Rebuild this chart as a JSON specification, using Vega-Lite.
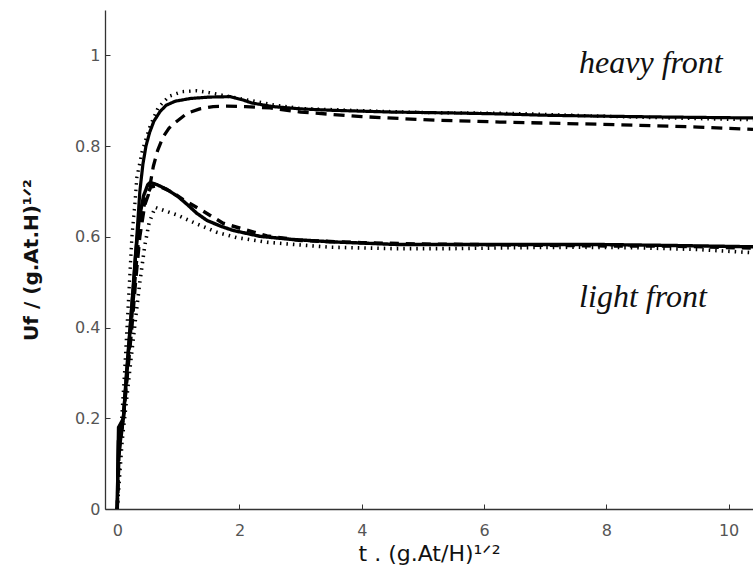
{
  "$schema": "https://vega.github.io/schema/vega-lite/v6.json",
  "width": 648,
  "height": 499,
  "autosize": {"type": "none"},
  "padding": {"left": 105, "top": 10, "right": 0, "bottom": 73},
  "background": "white",
  "config": {
    "view": {"stroke": null},
    "axis": {
      "grid": false,
      "domainColor": "#333",
      "domainWidth": 1.3,
      "tickColor": "#333",
      "tickSize": -5,
      "tickWidth": 1,
      "labelFont": "DejaVu Sans",
      "labelFontSize": 16,
      "labelColor": "#555",
      "titleFont": "DejaVu Sans",
      "titleColor": "#111"
    }
  },
  "datasets": {
    "curves": [
      {"curve": "heavy solid", "t": 0, "u": 0},
      {"curve": "heavy solid", "t": 0.01, "u": 0.1},
      {"curve": "heavy solid", "t": 0.02, "u": 0.18},
      {"curve": "heavy solid", "t": 0.1, "u": 0.2},
      {"curve": "heavy solid", "t": 0.15, "u": 0.3},
      {"curve": "heavy solid", "t": 0.21, "u": 0.4},
      {"curve": "heavy solid", "t": 0.27, "u": 0.5},
      {"curve": "heavy solid", "t": 0.32, "u": 0.6},
      {"curve": "heavy solid", "t": 0.37, "u": 0.7},
      {"curve": "heavy solid", "t": 0.42, "u": 0.76},
      {"curve": "heavy solid", "t": 0.47, "u": 0.8},
      {"curve": "heavy solid", "t": 0.53, "u": 0.83},
      {"curve": "heavy solid", "t": 0.6, "u": 0.855},
      {"curve": "heavy solid", "t": 0.7, "u": 0.876},
      {"curve": "heavy solid", "t": 0.8, "u": 0.89},
      {"curve": "heavy solid", "t": 0.95, "u": 0.899},
      {"curve": "heavy solid", "t": 1.2, "u": 0.905},
      {"curve": "heavy solid", "t": 1.5, "u": 0.908},
      {"curve": "heavy solid", "t": 1.85, "u": 0.909},
      {"curve": "heavy solid", "t": 2.05, "u": 0.902},
      {"curve": "heavy solid", "t": 2.2, "u": 0.895},
      {"curve": "heavy solid", "t": 2.55, "u": 0.887},
      {"curve": "heavy solid", "t": 3.0, "u": 0.882},
      {"curve": "heavy solid", "t": 3.5, "u": 0.879},
      {"curve": "heavy solid", "t": 4.5, "u": 0.875},
      {"curve": "heavy solid", "t": 5.5, "u": 0.873},
      {"curve": "heavy solid", "t": 6.26, "u": 0.871},
      {"curve": "heavy solid", "t": 7.0, "u": 0.868},
      {"curve": "heavy solid", "t": 7.9, "u": 0.866},
      {"curve": "heavy solid", "t": 9.0, "u": 0.864},
      {"curve": "heavy solid", "t": 10.4, "u": 0.862},

      {"curve": "heavy dashed", "t": 0, "u": 0},
      {"curve": "heavy dashed", "t": 0.03, "u": 0.12},
      {"curve": "heavy dashed", "t": 0.1, "u": 0.2},
      {"curve": "heavy dashed", "t": 0.17, "u": 0.3},
      {"curve": "heavy dashed", "t": 0.24, "u": 0.4},
      {"curve": "heavy dashed", "t": 0.3, "u": 0.5},
      {"curve": "heavy dashed", "t": 0.37, "u": 0.6},
      {"curve": "heavy dashed", "t": 0.45, "u": 0.67},
      {"curve": "heavy dashed", "t": 0.51, "u": 0.693},
      {"curve": "heavy dashed", "t": 0.59, "u": 0.755},
      {"curve": "heavy dashed", "t": 0.66, "u": 0.79},
      {"curve": "heavy dashed", "t": 0.75, "u": 0.82},
      {"curve": "heavy dashed", "t": 0.85, "u": 0.84},
      {"curve": "heavy dashed", "t": 0.95, "u": 0.852},
      {"curve": "heavy dashed", "t": 1.14, "u": 0.872},
      {"curve": "heavy dashed", "t": 1.35, "u": 0.882},
      {"curve": "heavy dashed", "t": 1.57, "u": 0.887},
      {"curve": "heavy dashed", "t": 1.8, "u": 0.888},
      {"curve": "heavy dashed", "t": 2.1, "u": 0.887},
      {"curve": "heavy dashed", "t": 2.5, "u": 0.884},
      {"curve": "heavy dashed", "t": 3.0, "u": 0.875},
      {"curve": "heavy dashed", "t": 4.0, "u": 0.865},
      {"curve": "heavy dashed", "t": 5.2, "u": 0.857},
      {"curve": "heavy dashed", "t": 6.26, "u": 0.853},
      {"curve": "heavy dashed", "t": 7.9, "u": 0.848},
      {"curve": "heavy dashed", "t": 9.5, "u": 0.842},
      {"curve": "heavy dashed", "t": 10.4, "u": 0.837},

      {"curve": "heavy dotted", "t": 0, "u": 0},
      {"curve": "heavy dotted", "t": 0.05, "u": 0.15},
      {"curve": "heavy dotted", "t": 0.12, "u": 0.3},
      {"curve": "heavy dotted", "t": 0.18, "u": 0.45},
      {"curve": "heavy dotted", "t": 0.24, "u": 0.6},
      {"curve": "heavy dotted", "t": 0.29, "u": 0.675},
      {"curve": "heavy dotted", "t": 0.32, "u": 0.73},
      {"curve": "heavy dotted", "t": 0.41, "u": 0.79},
      {"curve": "heavy dotted", "t": 0.54, "u": 0.845},
      {"curve": "heavy dotted", "t": 0.67, "u": 0.885},
      {"curve": "heavy dotted", "t": 0.85, "u": 0.91},
      {"curve": "heavy dotted", "t": 1.06, "u": 0.92},
      {"curve": "heavy dotted", "t": 1.3, "u": 0.922},
      {"curve": "heavy dotted", "t": 1.5, "u": 0.918},
      {"curve": "heavy dotted", "t": 1.8, "u": 0.91},
      {"curve": "heavy dotted", "t": 2.2, "u": 0.9},
      {"curve": "heavy dotted", "t": 2.6, "u": 0.89},
      {"curve": "heavy dotted", "t": 3.0, "u": 0.883},
      {"curve": "heavy dotted", "t": 4.0, "u": 0.878},
      {"curve": "heavy dotted", "t": 5.0, "u": 0.874},
      {"curve": "heavy dotted", "t": 6.5, "u": 0.872},
      {"curve": "heavy dotted", "t": 7.9, "u": 0.866},
      {"curve": "heavy dotted", "t": 9.0, "u": 0.862},
      {"curve": "heavy dotted", "t": 10.4, "u": 0.858},

      {"curve": "light solid", "t": 0, "u": 0},
      {"curve": "light solid", "t": 0.02, "u": 0.15},
      {"curve": "light solid", "t": 0.1, "u": 0.2},
      {"curve": "light solid", "t": 0.17, "u": 0.32},
      {"curve": "light solid", "t": 0.24, "u": 0.45},
      {"curve": "light solid", "t": 0.3, "u": 0.56},
      {"curve": "light solid", "t": 0.36, "u": 0.64},
      {"curve": "light solid", "t": 0.43, "u": 0.69},
      {"curve": "light solid", "t": 0.5, "u": 0.715},
      {"curve": "light solid", "t": 0.54, "u": 0.72},
      {"curve": "light solid", "t": 0.65, "u": 0.715},
      {"curve": "light solid", "t": 0.82, "u": 0.704},
      {"curve": "light solid", "t": 1.0, "u": 0.688},
      {"curve": "light solid", "t": 1.14, "u": 0.672},
      {"curve": "light solid", "t": 1.3, "u": 0.652},
      {"curve": "light solid", "t": 1.47, "u": 0.636},
      {"curve": "light solid", "t": 1.7, "u": 0.623},
      {"curve": "light solid", "t": 1.9, "u": 0.614},
      {"curve": "light solid", "t": 2.34, "u": 0.601},
      {"curve": "light solid", "t": 2.88, "u": 0.594},
      {"curve": "light solid", "t": 3.5, "u": 0.589},
      {"curve": "light solid", "t": 4.6, "u": 0.583},
      {"curve": "light solid", "t": 6.26, "u": 0.583},
      {"curve": "light solid", "t": 7.9, "u": 0.583},
      {"curve": "light solid", "t": 9.0, "u": 0.581},
      {"curve": "light solid", "t": 10.4, "u": 0.578},

      {"curve": "light dashed", "t": 0, "u": 0},
      {"curve": "light dashed", "t": 0.03, "u": 0.13},
      {"curve": "light dashed", "t": 0.1, "u": 0.2},
      {"curve": "light dashed", "t": 0.18, "u": 0.33},
      {"curve": "light dashed", "t": 0.26, "u": 0.46},
      {"curve": "light dashed", "t": 0.33, "u": 0.57},
      {"curve": "light dashed", "t": 0.4, "u": 0.65},
      {"curve": "light dashed", "t": 0.48, "u": 0.69},
      {"curve": "light dashed", "t": 0.55, "u": 0.71},
      {"curve": "light dashed", "t": 0.62, "u": 0.712},
      {"curve": "light dashed", "t": 0.75, "u": 0.708},
      {"curve": "light dashed", "t": 0.9, "u": 0.698},
      {"curve": "light dashed", "t": 1.08, "u": 0.682},
      {"curve": "light dashed", "t": 1.4, "u": 0.657},
      {"curve": "light dashed", "t": 1.73, "u": 0.63},
      {"curve": "light dashed", "t": 2.06, "u": 0.617},
      {"curve": "light dashed", "t": 2.45, "u": 0.602},
      {"curve": "light dashed", "t": 3.0, "u": 0.592},
      {"curve": "light dashed", "t": 4.0, "u": 0.587},
      {"curve": "light dashed", "t": 5.0, "u": 0.584},
      {"curve": "light dashed", "t": 6.5, "u": 0.582},
      {"curve": "light dashed", "t": 8.0, "u": 0.58},
      {"curve": "light dashed", "t": 9.0, "u": 0.58},
      {"curve": "light dashed", "t": 10.4, "u": 0.575},

      {"curve": "light dotted", "t": 0, "u": 0},
      {"curve": "light dotted", "t": 0.08, "u": 0.15},
      {"curve": "light dotted", "t": 0.2, "u": 0.3},
      {"curve": "light dotted", "t": 0.3, "u": 0.42},
      {"curve": "light dotted", "t": 0.37, "u": 0.5},
      {"curve": "light dotted", "t": 0.45, "u": 0.58},
      {"curve": "light dotted", "t": 0.52, "u": 0.63},
      {"curve": "light dotted", "t": 0.62, "u": 0.665},
      {"curve": "light dotted", "t": 0.98, "u": 0.648},
      {"curve": "light dotted", "t": 1.31, "u": 0.628},
      {"curve": "light dotted", "t": 1.63, "u": 0.61},
      {"curve": "light dotted", "t": 1.96, "u": 0.598},
      {"curve": "light dotted", "t": 2.45, "u": 0.588},
      {"curve": "light dotted", "t": 2.9, "u": 0.583},
      {"curve": "light dotted", "t": 3.5, "u": 0.577},
      {"curve": "light dotted", "t": 4.5, "u": 0.574},
      {"curve": "light dotted", "t": 5.5, "u": 0.574},
      {"curve": "light dotted", "t": 6.5, "u": 0.576},
      {"curve": "light dotted", "t": 7.5, "u": 0.577},
      {"curve": "light dotted", "t": 8.5, "u": 0.576},
      {"curve": "light dotted", "t": 9.5, "u": 0.572},
      {"curve": "light dotted", "t": 10.4, "u": 0.565}
    ],
    "labels": [
      {"label": "heavy front", "t": 8.73, "u": 0.962},
      {"label": "light front", "t": 8.6, "u": 0.446}
    ]
  },
  "layer": [
    {
      "data": {"name": "curves"},
      "mark": {"type": "line", "color": "black", "clip": true, "strokeCap": "butt", "strokeJoin": "round"},
      "encoding": {
        "x": {
          "field": "t", "type": "quantitative",
          "scale": {"domain": [-0.2, 10.4], "nice": false, "zero": false},
          "axis": {"values": [0, 2, 4, 6, 8, 10], "format": "d", "labelPadding": 18, "title": "t . (g.At/H)¹ᐟ²", "titleFontSize": 22, "titleFontWeight": "normal", "titlePadding": 5}
        },
        "y": {
          "field": "u", "type": "quantitative",
          "scale": {"domain": [0, 1.1], "nice": false},
          "axis": {"values": [0, 0.2, 0.4, 0.6, 0.8, 1], "format": "~g", "labelPadding": 10, "title": "Uf / (g.At.H)¹ᐟ²", "titleFontSize": 20, "titleFontWeight": "bold", "titlePadding": 33}
        },
        "detail": {"field": "curve"},
        "strokeDash": {
          "field": "curve", "type": "nominal", "legend": null,
          "scale": {
            "domain": ["heavy solid", "heavy dashed", "heavy dotted", "light solid", "light dashed", "light dotted"],
            "range": [[1, 0], [11, 7], [1.5, 5], [1, 0], [9, 7], [1.5, 5]]
          }
        },
        "strokeWidth": {
          "field": "curve", "type": "nominal", "legend": null,
          "scale": {
            "domain": ["heavy solid", "heavy dashed", "heavy dotted", "light solid", "light dashed", "light dotted"],
            "range": [3.2, 3.6, 1.6, 1.1, 1.2, 1.5]
          }
        },
        "order": {"field": "t", "type": "quantitative"}
      }
    },
    {
      "data": {"name": "labels"},
      "mark": {"type": "text", "font": "Liberation Serif", "fontStyle": "italic", "fontSize": 32, "align": "center", "baseline": "alphabetic", "color": "#111"},
      "encoding": {
        "x": {"field": "t", "type": "quantitative"},
        "y": {"field": "u", "type": "quantitative"},
        "text": {"field": "label"}
      }
    }
  ]
}
